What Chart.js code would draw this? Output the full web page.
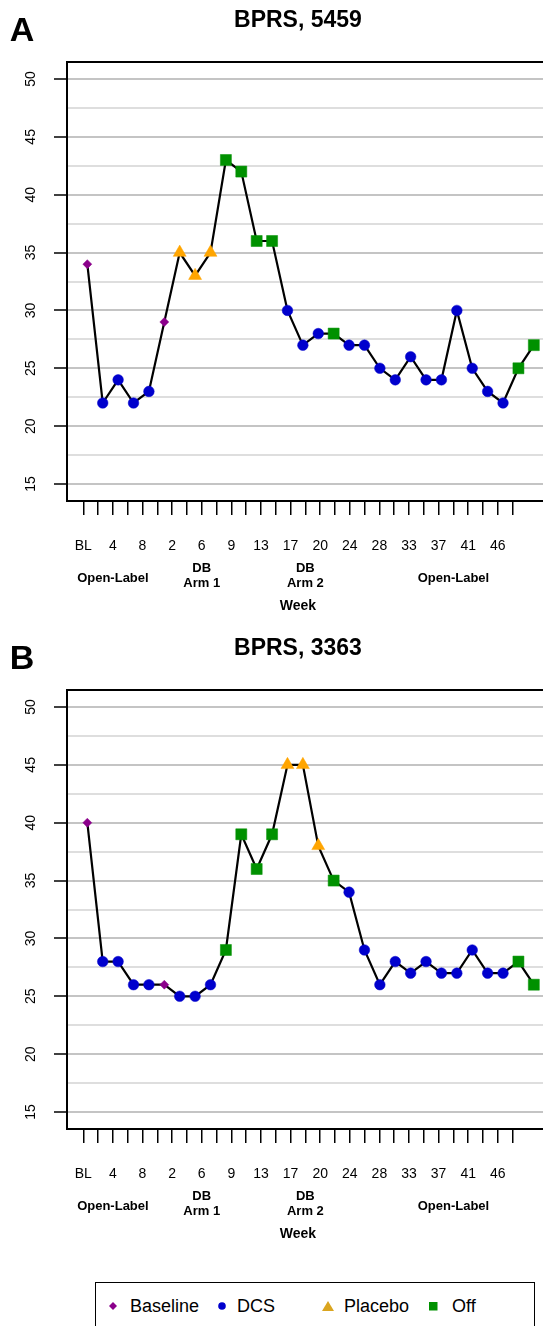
<!DOCTYPE html>
<html lang="en">
<head>
    <meta charset="UTF-8">
    <title>BPRS</title>
    <script src="https://cdn.jsdelivr.net/npm/chart.js"></script>
    <style>
        body {
            margin: 0;
            padding: 0;
            width: 543px;
            height: 1326px;
            overflow: hidden;
            position: relative;
            background: #fff;
            font-family: 'Liberation Sans', Arial, sans-serif;
        }

        .panel {
            position: absolute;
            left: 0;
        }

        .legend-box {
            position: absolute;
            left: 95px;
            top: 1282px;
            width: 440px;
            height: 70px;
            border: 1.5px solid #000;
            box-sizing: border-box;
        }

        .legend-box span {
            position: absolute;
            font-size: 18px;
            line-height: 18px;
            top: 14px;
            color: #000;
        }

        .legend-box svg {
            position: absolute;
            top: 17px;
        }
    </style>
</head>
<body>
    <canvas id="chartA" class="panel" style="top:0" width="580" height="628"></canvas>
    <canvas id="chartB" class="panel" style="top:628px" width="580" height="628"></canvas>

    <div class="legend-box">
        <svg style="left:11px" width="12" height="12"><polygon points="6,2 10,6 6,10 2,6" fill="#8B008B"/></svg>
        <span style="left:34px">Baseline</span>
        <svg style="left:120px" width="12" height="12"><circle cx="6" cy="6" r="3.8" fill="#0000CD"/></svg>
        <span style="left:141px">DCS</span>
        <svg style="left:225px" width="14" height="12"><polygon points="7,1 13,11 1,11" fill="#DAA520"/></svg>
        <span style="left:248px">Placebo</span>
        <svg style="left:331px" width="12" height="12"><rect x="2" y="2" width="8.5" height="8.5" fill="#009100"/></svg>
        <span style="left:356px">Off</span>
    </div>

    <script>
        // week tick labels (R only printed every other one)
        const weekLabels = ['BL', '', '4', '', '8', '', '2', '', '6', '', '9', '', '13', '', '17', '',
                            '20', '', '24', '', '28', '', '33', '', '37', '', '41', '', '46', ''];
        const yGrid = [15, 17.5, 20, 22.5, 25, 27.5, 30, 32.5, 35, 37.5, 40, 42.5, 45, 47.5, 50];
        const yLabels = [15, 20, 25, 30, 35, 40, 45, 50];

        const scoresA = [34, 22, 24, 22, 23, 29, 35, 33, 35, 43, 42, 36, 36, 30, 27,
                         28, 28, 27, 27, 25, 24, 26, 24, 24, 30, 25, 23, 22, 25, 27];
        const phaseA = ['Baseline', 'DCS', 'DCS', 'DCS', 'DCS', 'Baseline', 'Placebo', 'Placebo', 'Placebo', 'Off',
                        'Off', 'Off', 'Off', 'DCS', 'DCS', 'DCS', 'Off', 'DCS', 'DCS', 'DCS',
                        'DCS', 'DCS', 'DCS', 'DCS', 'DCS', 'DCS', 'DCS', 'DCS', 'Off', 'Off'];

        const scoresB = [40, 28, 28, 26, 26, 26, 25, 25, 26, 29, 39, 36, 39, 45, 45,
                         38, 35, 34, 29, 26, 28, 27, 28, 27, 27, 29, 27, 27, 28, 26];
        const phaseB = ['Baseline', 'DCS', 'DCS', 'DCS', 'DCS', 'Baseline', 'DCS', 'DCS', 'DCS', 'Off',
                        'Off', 'Off', 'Off', 'Placebo', 'Placebo', 'Placebo', 'Off', 'DCS', 'DCS', 'DCS',
                        'DCS', 'DCS', 'DCS', 'DCS', 'DCS', 'DCS', 'DCS', 'DCS', 'Off', 'Off'];

        // phase annotations under the axis, placed at a week tick index
        const groups = [
            { at: 2, lines: ['Open-Label'] },
            { at: 8, lines: ['DB', 'Arm 1'] },
            { at: 15, lines: ['DB', 'Arm 2'] },
            { at: 25, lines: ['Open-Label'] }
        ];

        const phaseStyle = {
            Baseline: { shape: 'rectRot', color: '#8B008B', r: 4.5 },
            DCS: { shape: 'circle', color: '#0000CD', r: 5.3 },
            Placebo: { shape: 'triangle', color: '#FFA500', r: 7.5 },
            Off: { shape: 'rect', color: '#009100', r: 7.8 }
        };

        const FONT = "'Liberation Sans', Arial, sans-serif";

        const panelText = {
            id: 'panelText',
            afterDraw(chart, args, opts) {
                const ctx = chart.ctx;
                const area = chart.chartArea;
                const xw = chart.scales.xw;
                const y = chart.scales.y;
                ctx.save();
                ctx.fillStyle = '#000';

                // top frame line
                ctx.strokeStyle = '#000';
                ctx.lineWidth = 2;
                ctx.beginPath();
                ctx.moveTo(area.left - 1, area.top);
                ctx.lineTo(area.right, area.top);
                ctx.stroke();

                ctx.textBaseline = 'alphabetic';
                ctx.textAlign = 'center';
                ctx.font = 'bold 34px ' + FONT;
                ctx.fillText(opts.letter, 22, 41);
                ctx.font = 'bold 23px ' + FONT;
                ctx.fillText(opts.title, xw.getPixelForValue(14.5), 27);

                // rotated y labels
                ctx.font = '14px ' + FONT;
                yLabels.forEach(v => {
                    ctx.save();
                    ctx.translate(34.5, y.getPixelForValue(v));
                    ctx.rotate(-Math.PI / 2);
                    ctx.fillText(String(v), 0, 0);
                    ctx.restore();
                });

                ctx.font = 'bold 13px ' + FONT;
                groups.forEach(g => {
                    const gx = xw.getPixelForValue(g.at);
                    if (g.lines.length === 1) {
                        ctx.fillText(g.lines[0], gx, area.bottom + 81);
                    } else {
                        ctx.fillText(g.lines[0], gx, area.bottom + 70.5);
                        ctx.fillText(g.lines[1], gx, area.bottom + 85.7);
                    }
                });
                ctx.font = 'bold 14px ' + FONT;
                ctx.fillText('Week', xw.getPixelForValue(14.5), area.bottom + 108.5);
                ctx.restore();
            }
        };

        function makePanel(id, letter, title, scores, phases) {
            const ctx = document.getElementById(id).getContext('2d');
            return new Chart(ctx, {
                type: 'line',
                data: {
                    datasets: [{
                        data: scores.map((v, i) => ({ x: i, y: v })),
                        borderColor: '#000',
                        borderWidth: 2.2,
                        tension: 0,
                        pointStyle: c => phaseStyle[phases[c.dataIndex]].shape,
                        pointRadius: c => phaseStyle[phases[c.dataIndex]].r,
                        pointBackgroundColor: c => phaseStyle[phases[c.dataIndex]].color,
                        pointBorderColor: c => phaseStyle[phases[c.dataIndex]].color,
                        pointBorderWidth: 0.5,
                        xAxisID: 'x',
                        yAxisID: 'y'
                    }]
                },
                options: {
                    responsive: false,
                    animation: false,
                    events: [],
                    layout: {
                        autoPadding: false,
                        padding: { top: 62, left: 0, right: 20, bottom: 67 }
                    },
                    plugins: {
                        legend: { display: false },
                        tooltip: { enabled: false },
                        panelText: { letter: letter, title: title }
                    },
                    scales: {
                        x: {
                            type: 'linear',
                            display: false,
                            min: -1.32,
                            max: 30.7
                        },
                        xw: {
                            type: 'linear',
                            position: 'bottom',
                            min: -1.1,
                            max: 32.2,
                            afterBuildTicks: s => { s.ticks = weekLabels.map((_, j) => ({ value: j })); },
                            afterFit: s => { s.height = 60; },
                            ticks: {
                                autoSkip: false,
                                maxRotation: 0,
                                minRotation: 0,
                                padding: 23,
                                color: '#000',
                                font: { size: 14, family: FONT },
                                callback: v => weekLabels[v] || ''
                            },
                            grid: {
                                drawOnChartArea: false,
                                color: '#000',
                                tickLength: 14,
                                lineWidth: 1.5
                            },
                            border: { display: true, color: '#000', width: 2 }
                        },
                        y: {
                            type: 'linear',
                            position: 'left',
                            min: 13.53,
                            max: 51.47,
                            afterBuildTicks: s => { s.ticks = yGrid.map(v => ({ value: v })); },
                            afterFit: s => { s.width = 67; },
                            ticks: { display: false },
                            grid: {
                                color: c => (c.tick && c.tick.value % 5 === 0) ? '#c4c4c4' : '#dedede',
                                lineWidth: 2,
                                tickColor: c => (c.tick && c.tick.value % 5 === 0) ? '#000' : 'rgba(0,0,0,0)',
                                tickLength: 13,
                                tickWidth: 1.5
                            },
                            border: { color: '#000', width: 2 }
                        }
                    }
                },
                plugins: [panelText]
            });
        }

        makePanel('chartA', 'A', 'BPRS, 5459', scoresA, phaseA);
        makePanel('chartB', 'B', 'BPRS, 3363', scoresB, phaseB);
    </script>
</body>
</html>
